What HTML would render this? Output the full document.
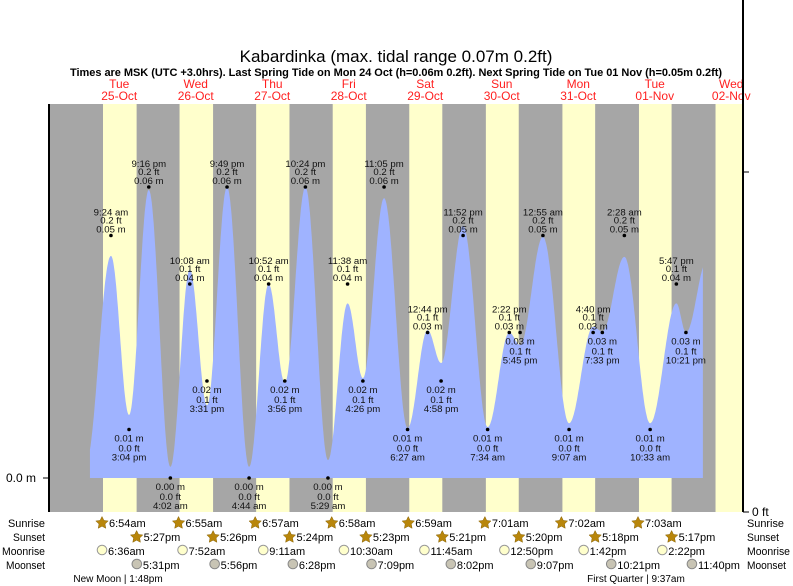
<!DOCTYPE html>
<html><head><meta charset="utf-8">
<style>
body{margin:0;background:#fff;}
svg{display:block;font-family:"Liberation Sans",sans-serif;}
</style></head>
<body>
<svg id="chart" width="793" height="586" viewBox="0 0 793 586" xmlns="http://www.w3.org/2000/svg">
<text x="396" y="62" font-size="17" text-anchor="middle">Kabardinka (max. tidal range 0.07m 0.2ft)</text>
<text x="396" y="76" font-size="11" font-weight="bold" text-anchor="middle" textLength="652">Times are MSK (UTC +3.0hrs). Last Spring Tide on Mon 24 Oct (h=0.06m 0.2ft). Next Spring Tide on Tue 01 Nov (h=0.05m 0.2ft)</text>
<g id="bands"></g>
<g id="tide"></g>
<g id="labels"></g>
<g id="axes"></g>
<g id="almanac"></g>
</svg>
<script>
// ---- data (hours since Tue 25-Oct 00:00) ----
const dayNames = ["Tue","Wed","Thu","Fri","Sat","Sun","Mon","Tue","Wed"];
const dayDates = ["25-Oct","26-Oct","27-Oct","28-Oct","29-Oct","30-Oct","31-Oct","01-Nov","02-Nov"];
const sunriseH = [6.90,6.917,6.95,6.967,6.983,7.017,7.033,7.05,7.067];
const sunsetH  = [17.45,17.433,17.40,17.383,17.35,17.333,17.30,17.283];
const sunriseLbl = ["6:54am","6:55am","6:57am","6:58am","6:59am","7:01am","7:02am","7:03am"];
const sunsetLbl  = ["5:27pm","5:26pm","5:24pm","5:23pm","5:21pm","5:20pm","5:18pm","5:17pm"];
const moonriseH = [6.6,7.867,9.183,10.5,11.75,12.833,13.7,14.367];
const moonriseLbl = ["6:36am","7:52am","9:11am","10:30am","11:45am","12:50pm","1:42pm","2:22pm"];
const moonsetH = [17.517,17.933,18.467,19.15,20.033,21.117,22.35,23.667];
const moonsetLbl = ["5:31pm","5:56pm","6:28pm","7:09pm","8:02pm","9:07pm","10:21pm","11:40pm"];
// tide extremes: time (h), curve height (m), printed label m, ft, time
const tideT = [1.5,9.4,15.067,21.267,28.033,34.133,39.517,45.817,52.733,58.867,63.933,70.4,77.483,83.633,88.433,95.083,102.45,108.733,112.967,119.867,127.567,134.367,137.75,144.917,153.117,160.667,163.55,170.467,178.55,186.783,189.783,196.5];
const tideH = [0.003,0.0458,0.013,0.0594,0.0023,0.043,0.015,0.060,0.0023,0.040,0.0196,0.060,0.0037,0.036,0.0206,0.0577,0.0103,0.0305,0.0237,0.052,0.0105,0.030,0.0274,0.0497,0.0113,0.0312,0.0302,0.0456,0.0113,0.036,0.030,0.045];
const tideM = [null,"0.05","0.01","0.06","0.00","0.04","0.02","0.06","0.00","0.04","0.02","0.06","0.00","0.04","0.02","0.06","0.01","0.03","0.02","0.05","0.01","0.03","0.03","0.05","0.01","0.03","0.03","0.05","0.01","0.04","0.03",null];
const tideFt = [null,"0.2","0.0","0.2","0.0","0.1","0.1","0.2","0.0","0.1","0.1","0.2","0.0","0.1","0.1","0.2","0.0","0.1","0.1","0.2","0.0","0.1","0.1","0.2","0.0","0.1","0.1","0.2","0.0","0.1","0.1",null];
const tideLbl = [null,"9:24 am","3:04 pm","9:16 pm","4:02 am","10:08 am","3:31 pm","9:49 pm","4:44 am","10:52 am","3:56 pm","10:24 pm","5:29 am","11:38 am","4:26 pm","11:05 pm","6:27 am","12:44 pm","4:58 pm","11:52 pm","7:34 am","2:22 pm","5:45 pm","12:55 am","9:07 am","4:40 pm","7:33 pm","2:28 am","10:33 am","5:47 pm","10:21 pm",null];
const tideStartH = 2.8, tideEndH = 195.1;

// ---- scales ----
const X0=81, PXH=3.1875, Y0=478, PXM=4850, LEFT=50, RIGHT=743, TOP=104, BOT=512;
const x = h => X0 + h*PXH;
const y = m => Y0 - m*PXM;
const NS="http://www.w3.org/2000/svg";
function mk(tag, attrs, parent, txt){const e=document.createElementNS(NS,tag);for(const k in attrs)e.setAttribute(k,attrs[k]);if(txt!==undefined)e.textContent=txt;parent.appendChild(e);return e;}

// bands
const bands=document.getElementById('bands');
let r=mk('rect',{x:LEFT,y:TOP,width:RIGHT-LEFT,height:BOT-TOP,fill:'#a6a6a6'},bands);


for(let i=0;i<sunriseH.length;i++){
  const s=x(i*24+sunriseH[i]);
  const e=i<sunsetH.length?x(i*24+sunsetH[i]):RIGHT;
  const b=mk('rect',{x:s,y:TOP,width:Math.min(e,RIGHT)-s,height:BOT-TOP,fill:'#ffffcc'},bands);
  
  
}
// day labels
for(let i=0;i<dayNames.length;i++){
  const cx=x(i*24+12);
  const t1=mk('text',{x:cx,y:88,'font-size':12,fill:'#ff2020','text-anchor':'middle'},bands,dayNames[i]);
  
  
  const t2=mk('text',{x:cx,y:100,'font-size':12,fill:'#ff2020','text-anchor':'middle'},bands,dayDates[i]);
  
  
}

// tide curve (cosine interpolation between extremes)
function hAt(t){
  for(let i=0;i<tideT.length-1;i++){
    if(t>=tideT[i]&&t<=tideT[i+1]){
      const f=(t-tideT[i])/(tideT[i+1]-tideT[i]);
      return tideH[i]+(tideH[i+1]-tideH[i])*(1-Math.cos(Math.PI*f))/2;
    }
  }
  return tideH[tideH.length-1];
}
let d=`M${x(tideStartH)},${Y0} L${x(tideStartH)},${y(hAt(tideStartH)).toFixed(1)}`;
for(let t=tideStartH;t<=tideEndH;t+=0.2){d+=` L${x(t).toFixed(1)},${y(hAt(t)).toFixed(1)}`;}
d+=` L${x(tideEndH)},${y(hAt(tideEndH)).toFixed(1)} L${x(tideEndH)},${Y0} Z`;
const tide=document.getElementById('tide');
const p=mk('path',{d:d,fill:'#9fb3ff'},tide);



// extreme labels
const lab=document.getElementById('labels');
for(let i=0;i<tideT.length;i++){
  if(tideM[i]===null)continue;
  const cx=x(tideT[i]);
  const dy=y(parseFloat(tideM[i]));
  const high=tideH[i]>(hAt(tideT[i]-2)+hAt(tideT[i]+2))/2;
  const g=mk('g',{'font-size':9.6,'text-anchor':'middle',fill:'#111'},lab);
  
  
  const c=mk('circle',{cx:cx,cy:dy,r:1.8,fill:'#000'},g);
  
  
  if(high){
    mk('text',{x:cx,y:dy-20},g,tideLbl[i]);
    mk('text',{x:cx,y:dy-12},g,tideFt[i]+' ft');
    mk('text',{x:cx,y:dy-3},g,tideM[i]+' m');
  }else{
    mk('text',{x:cx,y:dy+12},g,tideM[i]+' m');
    mk('text',{x:cx,y:dy+22},g,tideFt[i]+' ft');
    mk('text',{x:cx,y:dy+31},g,tideLbl[i]);
  }
}

// axes
const ax=document.getElementById('axes');
let a=mk('line',{x1:49,y1:TOP,x2:49,y2:BOT,stroke:'#000','stroke-width':2},ax);


mk('line',{x1:43,y1:Y0,x2:49,y2:Y0,stroke:'#000'},ax);
a=mk('text',{x:36,y:482,'font-size':12,'text-anchor':'end'},ax,'0.0 m');


a=mk('line',{x1:743,y1:0,x2:743,y2:BOT,stroke:'#000','stroke-width':2},ax);


mk('line',{x1:743,y1:BOT,x2:749,y2:BOT,stroke:'#000'},ax);
mk('line',{x1:743,y1:172,x2:749,y2:172,stroke:'#000'},ax);
a=mk('text',{x:752,y:516,'font-size':12},ax,'0 ft');



// almanac rows
const al=document.getElementById('almanac');
const rows=[["Sunrise",527,37],["Sunset",541,32],["Moonrise",555,43],["Moonset",569,39]];
rows.forEach(([n,yy,w])=>{
  let t=mk('text',{x:45,y:yy,'font-size':11,'text-anchor':'end',textLength:w,lengthAdjust:'spacingAndGlyphs'},al,n);
  
  
  t=mk('text',{x:747,y:yy,'font-size':11,textLength:w,lengthAdjust:'spacingAndGlyphs'},al,n);
  
  
});
function star(cx,cy){
  let pts=[];for(let k=0;k<10;k++){const rr=k%2?3.2:6.5;const an=-Math.PI/2+k*Math.PI/5;pts.push((cx+rr*Math.cos(an)).toFixed(1)+','+(cy+rr*Math.sin(an)).toFixed(1));}
  return pts.join(' ');
}
for(let i=0;i<sunriseLbl.length;i++){
  let sx=x(i*24+sunriseH[i]);
  let s=mk('polygon',{points:star(sx-1,523),fill:'#b8860b',stroke:'#8a6508','stroke-width':0.5},al);
  
  
  let t=mk('text',{x:sx+6,y:527,'font-size':11},al,sunriseLbl[i]);
  
  
  sx=x(i*24+sunsetH[i]);
  s=mk('polygon',{points:star(sx,537),fill:'#b8860b',stroke:'#8a6508','stroke-width':0.5},al);
  
  
  t=mk('text',{x:sx+7,y:541,'font-size':11},al,sunsetLbl[i]);
  
  
  sx=x(i*24+moonriseH[i]);
  s=mk('circle',{cx:sx,cy:550,r:4.8,fill:'#ffffcc',stroke:'#999'},al);
  
  
  t=mk('text',{x:sx+6,y:555,'font-size':11},al,moonriseLbl[i]);
  
  
  sx=x(i*24+moonsetH[i]);
  s=mk('circle',{cx:sx,cy:564,r:4.8,fill:'#c8c4b4',stroke:'#888'},al);
  
  
  t=mk('text',{x:sx+6,y:569,'font-size':11},al,moonsetLbl[i]);
  
  
}
let mp=mk('text',{x:118,y:582,'font-size':10,'text-anchor':'middle'},al,'New Moon | 1:48pm');


mp=mk('text',{x:636,y:582,'font-size':10,'text-anchor':'middle'},al,'First Quarter | 9:37am');


</script>
</body></html>
